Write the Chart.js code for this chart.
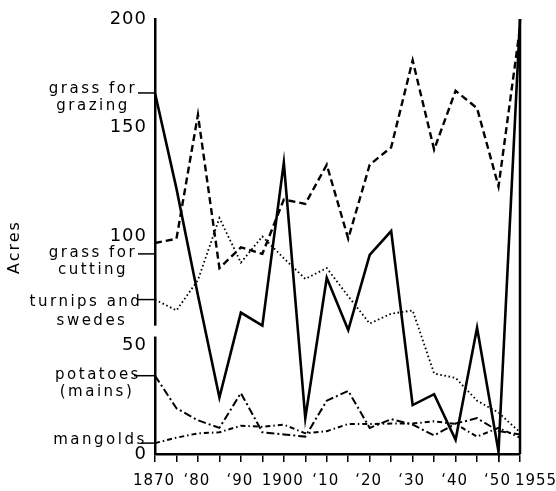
<!DOCTYPE html>
<html><head><meta charset="utf-8">
<script src="https://cdn.jsdelivr.net/npm/chart.js@4/dist/chart.umd.min.js"></script>
<style>html,body{margin:0;padding:0;background:#fff}#wrap{width:556px;height:491px;position:relative}</style>
</head><body><div id="wrap"><canvas id="c"></canvas></div>
<script>
// ---- data ----
const years = [1870,1875,1880,1885,1890,1895,1900,1905,1910,1915,1920,1925,1930,1935,1940,1945,1950,1955];
const grassGrazing  = [166,122,73,26,65,59,134,16.5,81,57,91.5,102.5,22.5,27.5,6.5,58,1,200];
const grassCutting  = [97,99,156,85.5,95,92,117,115,133,99,133,141,181,140,167,159,123,196];
const turnipsSwedes = [71,66,80,108.5,88,100,90,80.5,85.5,72.5,60,64.5,66,37,35,24.5,19,10];
const potatoesMains = [36,21,15.5,12,28,10,9,8,24.5,29,12,16,13.5,8.5,14,16.5,10.5,9];
const mangolds      = [5,7.5,9.5,10,13,12.5,13.5,9.5,10.5,13.8,13.8,14,14,15,13.8,8,12,7.5];
const yTicks = [0,50,100,150,200];
const xLabelYears = [1870,1880,1890,1900,1910,1920,1930,1940,1950];
const xLabelTexts = ['1870','‘80','‘90','1900','‘10','‘20','‘30','‘40','‘50'];
const xEndYear = [1955];
const xEndText = ['1955'];
const seriesNames = [['grass for','grazing'],['grass for','cutting'],['turnips and','swedes'],['potatoes','(mains)'],['mangolds']];
const labelAnchors = [166,92,71,36,5];
const axisTitle = 'Acres';

const LS = '1px';
const annot = {
  id: 'annot',
  beforeUpdate(chart){ chart.ctx.letterSpacing = LS; },
  beforeDraw(chart){ chart.ctx.letterSpacing = LS; },
  afterDatasetsDraw(chart){
    const ctx = chart.ctx, xs = chart.scales.x, ys = chart.scales.y;
    const x0 = xs.getPixelForValue(years[0]);
    const xEnd = xs.getPixelForValue(years[years.length-1]);
    ctx.save();
    // break in the vertical axis
    ctx.fillStyle = '#fff';
    const g1 = ys.getPixelForValue(59), g2 = ys.getPixelForValue(54);
    ctx.fillRect(x0-3, g1, 6, g2-g1);
    // right-hand frame line at 1955
    ctx.strokeStyle = '#000'; ctx.lineWidth = 2.5;
    ctx.beginPath(); ctx.moveTo(xEnd, ys.getPixelForValue(0)); ctx.lineTo(xEnd, ys.getPixelForValue(200)); ctx.stroke();
    // series labels
    ctx.letterSpacing = '2.5px';
    ctx.font = '15px "DejaVu Sans"';
    ctx.fillStyle = '#000'; ctx.textAlign = 'center'; ctx.textBaseline = 'alphabetic';
    const place = [
      {cx:[93,93], by:[0,17], lx:138},
      {cx:[93,93], by:[3,20], lx:138},
      {cx:[86,92], by:[6,25], lx:138},
      {cx:[98,97], by:[3,20], lx:134},
      {cx:[100],   by:[1],    lx:141}
    ];
    ctx.lineWidth = 1.5;
    seriesNames.forEach((lines,i)=>{
      const ly = ys.getPixelForValue(labelAnchors[i]);
      lines.forEach((t,j)=> ctx.fillText(t, place[i].cx[j], ly + place[i].by[j]));
      ctx.beginPath(); ctx.moveTo(place[i].lx, ly); ctx.lineTo(x0, ly); ctx.stroke();
    });
    // axis title
    ctx.font = '16px "DejaVu Sans"';
    ctx.letterSpacing = '2px';
    ctx.translate(15, 247); ctx.rotate(-Math.PI/2);
    ctx.textBaseline = 'middle';
    ctx.fillText(axisTitle, 0, 0);
    ctx.restore();
  }
};

const mk = (arr)=> years.map((yr,i)=>({x:yr, y:arr[i]}));
const common = {xAxisID:'x', yAxisID:'y', borderColor:'#000', backgroundColor:'#000', pointRadius:0, fill:false, tension:0, clip:10, borderCapStyle:'butt', borderJoinStyle:'miter'};
const xFont = {family:'DejaVu Sans', size:15};

new Chart(document.getElementById('c'), {
  type: 'line',
  data: { datasets: [
    Object.assign({label:'grass for grazing', data: mk(grassGrazing), borderWidth:2.6}, common),
    Object.assign({label:'grass for cutting', data: mk(grassCutting), borderWidth:2.4, borderDash:[7,4]}, common),
    Object.assign({label:'turnips and swedes', data: mk(turnipsSwedes), borderWidth:1.8, borderDash:[1.6,2.6]}, common),
    Object.assign({label:'potatoes (mains)', data: mk(potatoesMains), borderWidth:2, borderDash:[8,3,2,3]}, common),
    Object.assign({label:'mangolds', data: mk(mangolds), borderWidth:2, borderDash:[5,3,1.5,3]}, common)
  ]},
  options: {
    responsive: true, maintainAspectRatio: false, animation: false, devicePixelRatio: 1,
    layout: { padding: {left:0, right:36, top:19, bottom:0} },
    plugins: { legend:{display:false}, tooltip:{enabled:false}, title:{display:false} },
    scales: {
      x: {
        type:'linear', min:1870, max:1955, position:'bottom',
        afterBuildTicks: s => { s.ticks = years.map(v=>({value:v})); },
        ticks: { autoSkip:false, maxRotation:0, minRotation:0, padding:10, labelOffset:-1, color:'#000', font:xFont,
                 callback: v => { const i = xLabelYears.indexOf(v); return i>=0 ? xLabelTexts[i] : ''; } },
        grid: { display:true, drawOnChartArea:false, drawTicks:true, tickLength:8, color:'#000', lineWidth:1.5 },
        border: { display:true, color:'#000', width:2.5 },
        afterFit: s => { s.height = 37; }
      },
      x2: {
        type:'linear', min:1870, max:1955, axis:'x', position:{y:0},
        afterBuildTicks: s => { s.ticks = xEndYear.map(v=>({value:v})); },
        ticks: { autoSkip:false, maxRotation:0, minRotation:0, padding:18, labelOffset:16, color:'#000', font:xFont,
                 callback: v => { const i = xEndYear.indexOf(v); return i>=0 ? xEndText[i] : ''; } },
        grid: { display:false, drawTicks:false },
        border: { display:false },
        afterFit: s => { s.height = 0; s.paddingLeft = 0; s.paddingRight = 0; }
      },
      y: {
        type:'linear', min:0, max:200, position:'left',
        afterBuildTicks: s => { s.ticks = yTicks.map(v=>({value:v})); },
        ticks: { padding:8, color:'#000', font:{family:'DejaVu Sans', size:18} },
        grid: { display:false, drawTicks:false },
        border: { display:true, color:'#000', width:2.5 },
        afterFit: s => { s.width = 155; }
      }
    }
  },
  plugins: [annot]
});
</script></body></html>
